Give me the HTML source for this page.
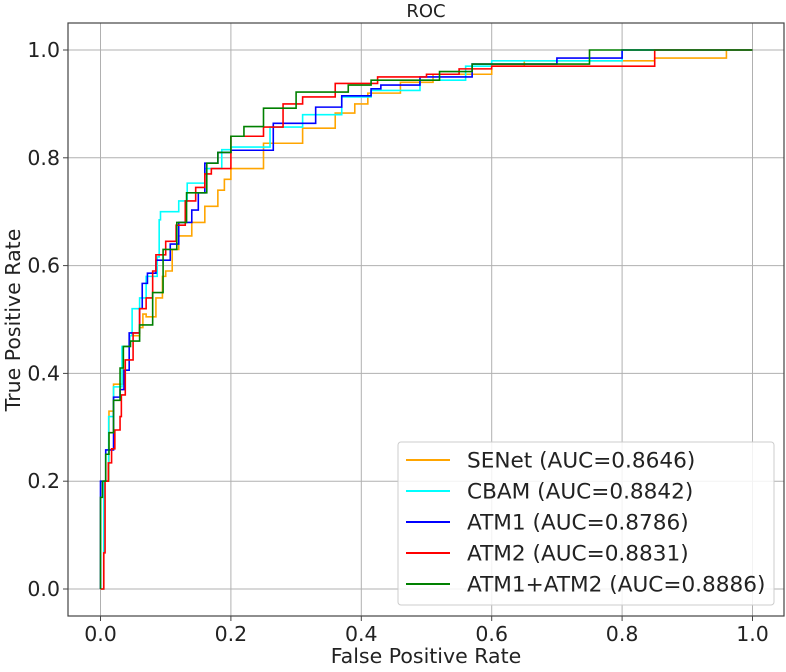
<!DOCTYPE html>
<html><head><meta charset="utf-8"><style>
body{margin:0;background:#fff}
svg text{font-family:"DejaVu Sans","Liberation Sans",sans-serif;fill:#222}
</style></head><body>
<svg id="chart" width="786" height="667" xmlns="http://www.w3.org/2000/svg">
<rect x="0" y="0" width="786" height="667" fill="#fff"/>
<g id="grid"></g>
<g id="series"></g>
<rect x="68" y="23" width="716" height="593" fill="none" stroke="#444" stroke-width="1.2"/>
<g id="ticks"></g>
<text x="426" y="17" font-size="18" text-anchor="middle">ROC</text>
<text x="426" y="663" font-size="20.5" text-anchor="middle">False Positive Rate</text>
<text transform="translate(20,320) rotate(-90)" font-size="20.5" text-anchor="middle">True Positive Rate</text>
<g id="legend"></g>
</svg>
<script>
const xTicks=[0,0.2,0.4,0.6,0.8,1.0];
const yTicks=[0,0.2,0.4,0.6,0.8,1.0];
const seriesNames=["SENet (AUC=0.8646)","CBAM (AUC=0.8842)","ATM1 (AUC=0.8786)","ATM2 (AUC=0.8831)","ATM1+ATM2 (AUC=0.8886)"];
const seriesColors=["orange","cyan","blue","red","green"];
const senetX=[0,0.005,0.013,0.02,0.035,0.045,0.06,0.065,0.07,0.085,0.095,0.1,0.11,0.12,0.14,0.16,0.18,0.19,0.2,0.25,0.31,0.36,0.39,0.41,0.46,0.51,0.6,0.65,0.85,0.96,1.0];
const senetY=[0,0.2,0.33,0.38,0.45,0.47,0.485,0.51,0.505,0.54,0.58,0.59,0.63,0.655,0.68,0.71,0.74,0.76,0.78,0.827,0.855,0.883,0.9,0.92,0.94,0.955,0.97,0.98,0.985,1.0,1.0];
const cbamX=[0,0.005,0.0125,0.02,0.033,0.045,0.0485,0.06,0.07,0.087,0.09,0.092,0.12,0.133,0.16,0.186,0.2,0.26,0.31,0.37,0.415,0.49,0.56,0.6,0.8,1.0];
const cbamY=[0,0.2,0.32,0.375,0.45,0.47,0.52,0.54,0.58,0.616,0.685,0.70,0.72,0.753,0.78,0.815,0.82,0.857,0.88,0.913,0.925,0.944,0.97,0.98,1.0,1.0];
const atm1X=[0,0.0,0.008,0.02,0.03,0.036,0.044,0.06,0.064,0.072,0.085,0.107,0.12,0.14,0.15,0.16,0.18,0.2,0.265,0.33,0.37,0.415,0.43,0.49,0.57,0.7,0.8,1.0];
const atm1Y=[0,0.2,0.258,0.356,0.37,0.406,0.475,0.52,0.567,0.586,0.61,0.64,0.68,0.703,0.735,0.79,0.81,0.814,0.864,0.894,0.915,0.928,0.935,0.95,0.974,0.985,1.0,1.0];
const atm2X=[0,0.005,0.007,0.012,0.017,0.022,0.03,0.032,0.038,0.05,0.06,0.07,0.08,0.085,0.1,0.116,0.13,0.146,0.16,0.17,0.2,0.25,0.28,0.31,0.36,0.425,0.5,0.55,0.6,0.85,1.0];
const atm2Y=[0,0.067,0.2,0.234,0.26,0.295,0.32,0.36,0.425,0.475,0.52,0.54,0.59,0.62,0.645,0.675,0.72,0.745,0.77,0.78,0.84,0.857,0.9,0.913,0.938,0.95,0.955,0.965,0.97,1.0,1.0];
const atm12X=[0,0,0.003,0.008,0.013,0.02,0.03,0.035,0.046,0.06,0.08,0.096,0.117,0.132,0.163,0.18,0.2,0.22,0.25,0.3,0.38,0.415,0.52,0.57,0.75,1.0];
const atm12Y=[0,0.17,0.2,0.25,0.29,0.35,0.41,0.45,0.46,0.49,0.55,0.63,0.68,0.735,0.79,0.81,0.84,0.858,0.892,0.922,0.935,0.944,0.96,0.974,1.0,1.0];
const allX=[senetX,cbamX,atm1X,atm2X,atm12X];
const allY=[senetY,cbamY,atm1Y,atm2Y,atm12Y];
const NS="http://www.w3.org/2000/svg";
function sx(v){return 100.5+v*652;}
function sy(v){return 589-v*539;}
function mk(tag,attrs,parent){const e=document.createElementNS(NS,tag);for(const k in attrs)e.setAttribute(k,attrs[k]);parent.appendChild(e);return e;}
const grid=document.getElementById('grid'),ticks=document.getElementById('ticks'),series=document.getElementById('series'),legend=document.getElementById('legend');
xTicks.forEach(t=>{
 const g=mk('line',{x1:sx(t),x2:sx(t),y1:23,y2:616,stroke:'#b0b0b0','stroke-width':1},grid);
 
 
 const tk=mk('line',{x1:sx(t),x2:sx(t),y1:616,y2:621,stroke:'#444','stroke-width':1},ticks);
 
 
 const lb=mk('text',{x:sx(t),y:641,'font-size':20.5,'text-anchor':'middle'},ticks);lb.textContent=t.toFixed(1);
 
 
});
yTicks.forEach(t=>{
 const g=mk('line',{x1:68,x2:784,y1:sy(t),y2:sy(t),stroke:'#b0b0b0','stroke-width':1},grid);
 
 
 const tk=mk('line',{x1:63,x2:68,y1:sy(t),y2:sy(t),stroke:'#444','stroke-width':1},ticks);
 
 
 const lb=mk('text',{x:60,y:sy(t)+7,'font-size':20.5,'text-anchor':'end'},ticks);lb.textContent=t.toFixed(1);
 
 
});
allX.forEach((xs,i)=>{
 const ys=allY[i];let d='M'+sx(xs[0])+','+sy(ys[0]);
 for(let k=1;k<xs.length;k++){d+=' L'+sx(xs[k])+','+sy(ys[k-1])+' L'+sx(xs[k])+','+sy(ys[k]);}
 const p=mk('path',{d:d,fill:'none',stroke:seriesColors[i],'stroke-width':1.6},series);
 
 
});
const lb=mk('rect',{x:398,y:442,width:376,height:163,rx:3,fill:'#fff','fill-opacity':0.85,stroke:'#ccc'},legend);


seriesNames.forEach((n,i)=>{
 const y=460+i*31;
 const l=mk('line',{x1:406,x2:450,y1:y,y2:y,stroke:seriesColors[i],'stroke-width':2},legend);
 
 
 const t=mk('text',{x:467,y:y+7.5,'font-size':21.6},legend);t.textContent=n;
 
 
});
</script>
</body></html>
